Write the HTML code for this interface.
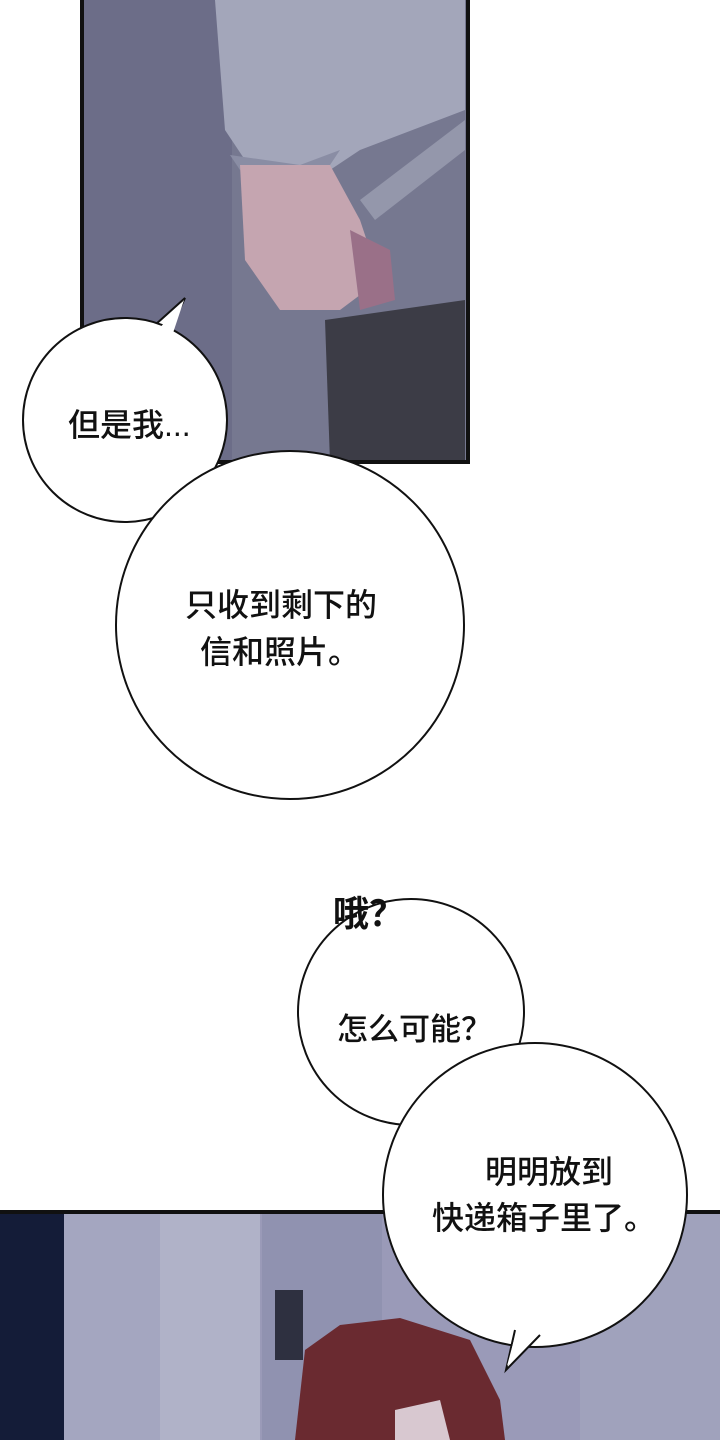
<!DOCTYPE html>
<html><head><meta charset="utf-8"><style>
body{margin:0;width:720px;height:1440px;background:#fff;position:relative;overflow:hidden;font-family:"Liberation Sans","Noto Sans CJK SC",sans-serif}
.t{position:absolute;color:#111;font-size:32px;line-height:44px;white-space:nowrap;font-family:"Liberation Sans","Noto Sans CJK SC",sans-serif;font-weight:500}
</style></head><body>
<svg width="720" height="1440" style="position:absolute;left:0;top:0">
<rect x="82" y="0" width="386" height="462" fill="#767890"/>
<rect x="82" y="0" width="150" height="462" fill="#6c6d88"/>
<path d="M215 0 L225 130 L245 160 L330 170 L360 150 L465 110 L465 0Z" fill="#a3a6ba"/>
<path d="M230 155 L300 165 L340 150 L320 180 L240 170Z" fill="#8a8da4"/>
<path d="M240 165 L330 165 L360 220 L380 280 L340 310 L280 310 L245 260Z" fill="#c5a5b0"/>
<path d="M350 230 L390 250 L395 300 L360 310Z" fill="#9a7088"/>
<path d="M325 320 L465 300 L465 462 L330 462Z" fill="#3c3c46"/>
<path d="M360 200 L465 120 L465 150 L375 220Z" fill="#9497ab"/>
<rect x="82" y="-3" width="386" height="465" fill="none" stroke="#111" stroke-width="4"/>
<rect x="0" y="1212" width="720" height="228" fill="#9a9ab8"/>
<rect x="0" y="1212" width="64" height="228" fill="#141c38"/>
<rect x="64" y="1212" width="100" height="228" fill="#a4a6c0"/>
<rect x="160" y="1212" width="100" height="228" fill="#b0b2c8"/>
<rect x="262" y="1212" width="120" height="228" fill="#9092b0"/>
<rect x="275" y="1290" width="28" height="70" fill="#2e3040"/>
<rect x="580" y="1212" width="140" height="228" fill="#a0a2bc"/>
<path d="M295 1440 L305 1350 L340 1325 L400 1318 L470 1340 L500 1400 L505 1440Z" fill="#6a2a30"/>
<path d="M395 1410 L440 1400 L450 1440 L395 1440Z" fill="#d8c8d0"/>
<line x1="0" y1="1212" x2="720" y2="1212" stroke="#111" stroke-width="4"/>
<g fill="#fff" stroke="#111" stroke-width="2">
<path d="M155 325 L185 298 L170 330"/>
<circle cx="125" cy="420" r="102"/>
<circle cx="290" cy="625" r="174"/>
<circle cx="411" cy="1012" r="113"/>
<circle cx="535" cy="1195" r="152"/>
<path d="M515 1330 L506 1370 L540 1335"/>
</g>
<g fill="#fff">
<path d="M158 330 L184 300 L172 336Z"/>
<path d="M518 1325 L507 1366 L538 1330Z"/>
</g>
</svg>
<div class="t" style="left:68px;top:403px">但是我...</div>
<div class="t" style="left:185px;top:583px">只收到剩下的</div>
<div class="t" style="left:200px;top:630px">信和照片。</div>
<div class="t" style="left:333px;top:892px;font-size:36px;font-weight:bold">哦？</div>
<div class="t" style="left:337px;top:1008px;font-size:31px">怎么可能？</div>
<div class="t" style="left:485px;top:1150px">明明放到</div>
<div class="t" style="left:432px;top:1196px">快递箱子里了。</div>
</body></html>
